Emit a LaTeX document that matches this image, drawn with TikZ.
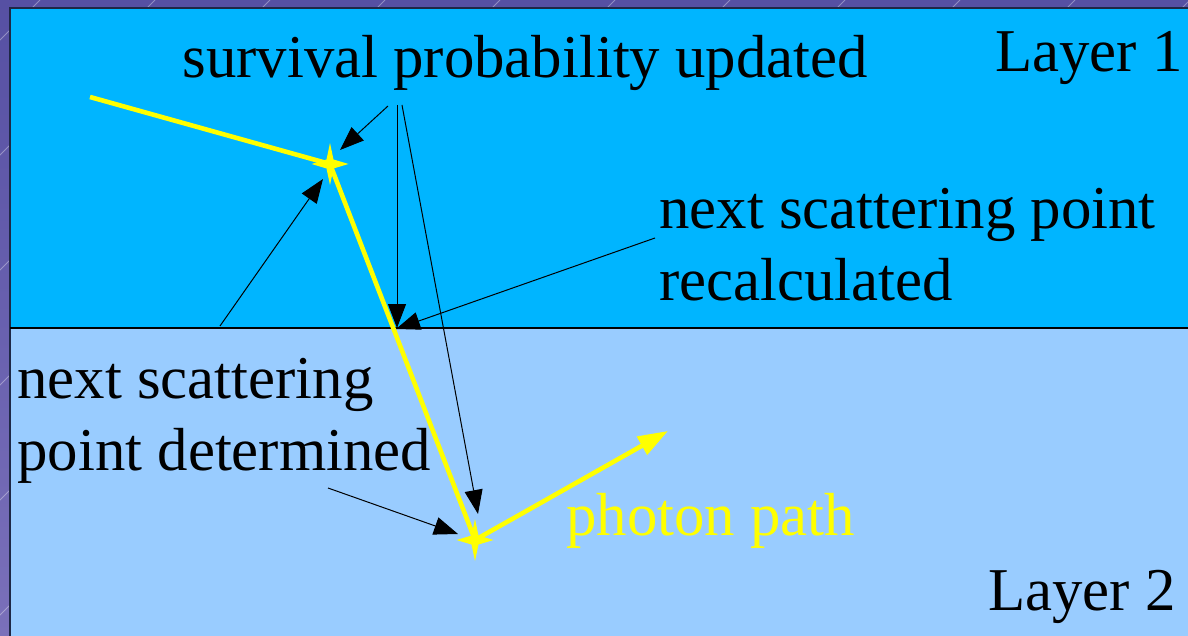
\documentclass[tikz,border=0pt]{standalone}
\usepackage{fontspec}
\setmainfont{Liberation Serif}
\usetikzlibrary{arrows.meta}
\definecolor{bgtop}{RGB}{86,80,163}
\definecolor{bgbot}{RGB}{122,112,186}
\definecolor{layerone}{RGB}{0,181,255}
\definecolor{layertwo}{RGB}{153,204,255}
\definecolor{edge}{RGB}{30,40,70}
\definecolor{pathyellow}{RGB}{255,255,0}
\tikzset{
  lbl/.style={anchor=base west,inner sep=0pt,font=\fontsize{30.4pt}{36pt}\selectfont},
  pointer/.style={black,line width=0.5pt,-{Triangle[length=12pt,width=9pt]}},
  photon/.style={pathyellow,line width=2.3pt,line join=round},
}
\newcommand{\starat}[1]{%
  \fill[pathyellow] (#1) ++(0,-21) -- ++(3.5,16.5) -- ++(15,4.5) -- ++(-15,4.5) -- ++(-3.5,16.5) -- ++(-3.5,-16.5) -- ++(-15,-4.5) -- ++(15,-4.5) -- cycle;}
\begin{document}
\begin{tikzpicture}[x=0.5pt,y=-0.5pt]
\useasboundingbox (0,0) rectangle (1188,636);
\shade[top color=bgtop,bottom color=bgbot] (0,0) rectangle (1188,636);
\begin{scope}
  \clip (0,0) rectangle (1188,636);
  \foreach \i in {0,...,20}
    \draw[white,opacity=0.35,line width=0.4pt] (\i*115+40,0) -- ++(-700,700);
\end{scope}
% layers
\fill[layerone] (10,8) rectangle (1188,328);
\fill[layertwo] (10,328) rectangle (1188,636);
\draw[edge,line width=1.2pt] (10,640) -- (10,8) -- (1192,8);
\draw[black,line width=0.6pt] (10,328) -- (1188,328);
% photon path
\coordinate (p0) at (90,97);
\coordinate (s1) at (330,164);
\coordinate (s2) at (475,540);
\coordinate (p3) at (668,431);
\draw[photon] (p0) -- (s1) -- (s2);
\draw[photon,-{Triangle[length=15pt,width=10pt]}] (s2) -- (p3);
\starat{s1}
\starat{s2}
% labels
\node[lbl] (surv) at (182,78) {survival probability updated};
\node[lbl] (l1) at (995,72) {Layer 1};
\node[lbl] (rec1) at (659,228) {next scattering point};
\node[lbl] (rec2) at (659,300) {recalculated};
\node[lbl] (det1) at (17,398) {next scattering};
\node[lbl] (det2) at (17,470) {point determined};
\node[lbl,text=pathyellow] (ph) at (566,535) {photon path};
\node[lbl] (l2) at (988,610) {Layer 2};
% pointer endpoints
\coordinate (a1s) at (388,106);
\coordinate (a1e) at (340,150);
\coordinate (a2s) at (397,105);
\coordinate (a2e) at (397,328);
\coordinate (a3s) at (402,105);
\coordinate (a3e) at (478,514);
\coordinate (a4s) at (655,238);
\coordinate (a4e) at (396,329);
\coordinate (a5s) at (220,326);
\coordinate (a5e) at (323,179);
\coordinate (a6s) at (328,488);
\coordinate (a6e) at (458,534);
\draw[pointer] (a1s) -- (a1e);
\draw[pointer] (a2s) -- (a2e);
\draw[pointer] (a3s) -- (a3e);
\draw[pointer] (a4s) -- (a4e);
\draw[pointer] (a5s) -- (a5e);
\draw[pointer] (a6s) -- (a6e);
\end{tikzpicture}
\end{document}
